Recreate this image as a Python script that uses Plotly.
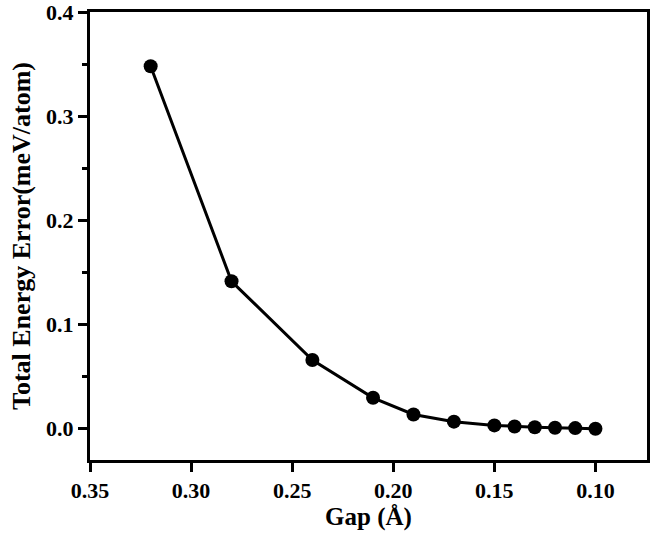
import plotly.graph_objects as go

gap = [0.32, 0.28, 0.24, 0.21, 0.19, 0.17, 0.15, 0.14, 0.13, 0.12, 0.11, 0.10]
energy_error = [0.348, 0.1415, 0.066, 0.0297, 0.0137, 0.0068, 0.0032, 0.0022, 0.0015, 0.001, 0.0006, 0.0]

x_ticks = [0.35, 0.30, 0.25, 0.20, 0.15, 0.10]
x_labels = ["0.35", "0.30", "0.25", "0.20", "0.15", "0.10"]
y_ticks = [0.0, 0.1, 0.2, 0.3, 0.4]
y_labels = ["0.0", "0.1", "0.2", "0.3", "0.4"]

font_family = "Liberation Serif"

fig = go.Figure()
fig.add_trace(go.Scatter(
    x=gap, y=energy_error, mode="lines+markers",
    line=dict(color="black", width=3),
    marker=dict(color="black", size=14),
    showlegend=False,
))

fig.update_layout(
    width=664, height=536,
    margin=dict(l=90, r=17, t=12, b=76),
    paper_bgcolor="white", plot_bgcolor="white",
    font=dict(family=font_family, color="black"),
)

fig.update_xaxes(
    range=[0.35, 0.0745], automargin=False, ticklabeloverflow="allow",
    tickmode="array", tickvals=x_ticks, ticktext=x_labels,
    ticks="outside", ticklen=9, tickwidth=3, tickcolor="black",
    showline=True, linewidth=3, linecolor="black", mirror=True,
    showgrid=False, zeroline=False,
    tickfont=dict(family=font_family, size=22, color="black", weight="bold"),
    title=dict(text="<b>Gap (Å)</b>", font=dict(family=font_family, size=25, color="black"), standoff=5),
)

fig.update_yaxes(
    range=[-0.03, 0.4], automargin=False, ticklabeloverflow="allow",
    tickmode="array", tickvals=y_ticks, ticktext=y_labels,
    ticks="outside", ticklen=9, tickwidth=3, tickcolor="black",
    minor=dict(tickvals=[0.05, 0.15, 0.25, 0.35], ticks="outside", ticklen=5, tickwidth=3, tickcolor="black"),
    showline=True, linewidth=3, linecolor="black", mirror=True,
    showgrid=False, zeroline=False,
    tickfont=dict(family=font_family, size=22, color="black", weight="bold"),
    title=dict(text="<b>Total Energy Error(meV/atom)</b>", font=dict(family=font_family, size=26, color="black"), standoff=8),
)

fig.write_html("out.html", config={"displayModeBar": False},
               post_script="document.body.style.margin='0';")
